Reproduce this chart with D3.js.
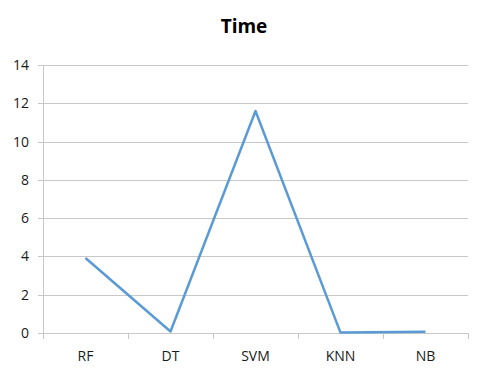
<!DOCTYPE html>
<html><head><meta charset="utf-8">
<script src="https://cdn.jsdelivr.net/npm/d3@7"></script>
<style>body{margin:0;background:#fff;} text{font-family:"Open Sans","Liberation Sans",sans-serif;}</style>
</head><body>
<svg id="c" width="480" height="381"></svg>
<script>
const categories = ["RF","DT","SVM","KNN","NB"];
const values = [3.92, 0.08, 11.6, 0.02, 0.06];
const yTicks = [0,2,4,6,8,10,12,14];
const title = "Time";

(function(){
const svg = d3.select("#c");
const pl = 43, pr = 468, pt = 65, pb = 333;
const x = d3.scaleBand().domain(categories).range([pl, pr]);
const y = d3.scaleLinear().domain([0,14]).range([pb, pt]);

svg.append("text").attr("x", 244).attr("y", 33).attr("text-anchor","middle")
  .attr("font-size", 19).attr("font-weight","bold").attr("fill","#000").text(title);

svg.append("g").selectAll("line").data(yTicks).join("line")
  .attr("x1", pl-5).attr("x2", pr).attr("y1", d=>Math.round(y(d))+0.5).attr("y2", d=>Math.round(y(d))+0.5)
  .attr("stroke","#c8c8c8").attr("stroke-width",1);
svg.append("line").attr("x1", pl+0.5).attr("x2", pl+0.5).attr("y1", pt).attr("y2", pb)
  .attr("stroke","#c8c8c8");
svg.append("g").selectAll("text").data(yTicks).join("text")
  .attr("x", 29).attr("y", d=>y(d)+5).attr("text-anchor","end").attr("font-size",14)
  .attr("fill","#1a1a1a").text(d=>d);
const xt = categories.map(c=>x(c)).concat([pr]);
svg.append("g").selectAll("line").data(xt).join("line")
  .attr("x1", d=>Math.round(d)+0.5).attr("x2", d=>Math.round(d)+0.5).attr("y1", pb).attr("y2", pb+6)
  .attr("stroke","#c8c8c8");
svg.append("g").selectAll("text").data(categories).join("text")
  .attr("x", d=>x(d)+x.bandwidth()/2).attr("y", 361).attr("text-anchor","middle").attr("font-size",14)
  .attr("fill","#1a1a1a").text(d=>d);
const line = d3.line().x((d,i)=>x(categories[i])+x.bandwidth()/2).y(d=>y(d));
svg.append("path").datum(values).attr("d", line).attr("fill","none")
  .attr("stroke","#5b9bd5").attr("stroke-width",2.5).attr("stroke-linejoin","round");
})();
</script>
</body></html>
